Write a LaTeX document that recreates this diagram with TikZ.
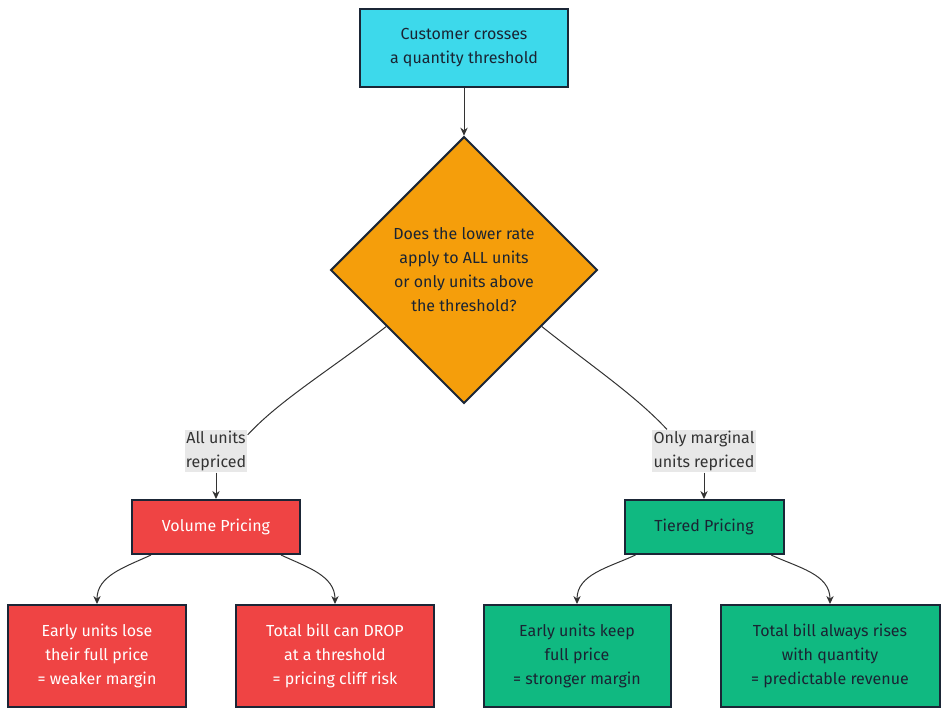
\documentclass[tikz,border=0pt]{standalone}
\usepackage{fontspec}
\setmainfont{Fira Sans}
\usetikzlibrary{shapes.geometric,arrows.meta}
\definecolor{startcyan}{HTML}{3DD9EB}
\definecolor{askorange}{HTML}{F59E0B}
\definecolor{volred}{HTML}{EF4444}
\definecolor{tiergreen}{HTML}{10B981}
\definecolor{nodeline}{HTML}{1B2636}
\definecolor{darktext}{HTML}{1A2433}
\definecolor{edgegrey}{HTML}{333333}
\definecolor{lblgrey}{HTML}{E8E8E8}
\begin{document}
\begin{tikzpicture}[x=0.75pt, y=-0.75pt,
    every node/.style={font=\fontsize{12}{18}\selectfont, align=center},
    box/.style={rectangle, draw=nodeline, line width=1.5pt, inner sep=0pt, minimum height=76.5pt},
    question/.style={diamond, draw=nodeline, line width=1.5pt, fill=askorange, text=darktext,
                     minimum width=200pt, minimum height=200pt, inner sep=0pt},
    redbox/.style={box, fill=volred, text=white},
    greenbox/.style={box, fill=tiergreen, text=darktext},
    edgelbl/.style={fill=lblgrey, inner sep=1pt, text=edgegrey},
    link/.style={draw=edgegrey, line width=0.75pt},
    arrow/.style={link, -{Stealth[length=6pt,width=5.5pt]}}
  ]
  \useasboundingbox (0,0) rectangle (948,715);

  % start and question
  \node[box, fill=startcyan, text=darktext, minimum width=156pt, minimum height=58.5pt] (start) at (464,48)
    {Customer crosses\\a quantity threshold};
  \node[question] (ask) at (464,270)
    {Does the lower rate\\apply to ALL units\\or only units above\\the threshold?};

  % two pricing models
  \node[edgelbl] (lblall) at (216,451) {All units\\repriced};
  \node[edgelbl] (lblmarg) at (704,451) {Only marginal\\units repriced};
  \node[redbox, minimum width=126pt, minimum height=40.5pt] (volume) at (216,527) {Volume Pricing};
  \node[greenbox, minimum width=119.25pt, minimum height=40.5pt] (tiered) at (704,527) {Tiered Pricing};

  % outcomes
  \node[redbox, minimum width=133.5pt] (lose) at (97,656) {Early units lose\\their full price\\= weaker margin};
  \node[redbox, minimum width=148.5pt] (drop) at (335,656) {Total bill can DROP\\at a threshold\\= pricing cliff risk};
  \node[greenbox, minimum width=140.25pt] (keep) at (577,656) {Early units keep\\full price\\= stronger margin};
  \node[greenbox, minimum width=164.25pt] (rises) at (830,656) {Total bill always rises\\with quantity\\= predictable revenue};

  \draw[arrow] (start) -- (ask);
  \draw[link] (ask.-144) .. controls (330,370) and (280,400) .. ([yshift=-4pt]lblall.north east);
  \draw[arrow] (lblall) -- (volume);
  \draw[link] (ask.-36) .. controls (590,365) and (635,395) .. ([shift={(-37,0)}]lblmarg.north);
  \draw[arrow] (lblmarg) -- (tiered);

  \draw[arrow] ([xshift=15pt]volume.south west) to[out=205, in=90] (lose.north);
  \draw[arrow] ([xshift=-15pt]volume.south east) to[out=-25, in=90] (drop.north);
  \draw[arrow] ([xshift=9pt]tiered.south west) to[out=205, in=90] (keep.north);
  \draw[arrow] ([xshift=-10pt]tiered.south east) to[out=-25, in=90] (rises.north);
\end{tikzpicture}
\end{document}
